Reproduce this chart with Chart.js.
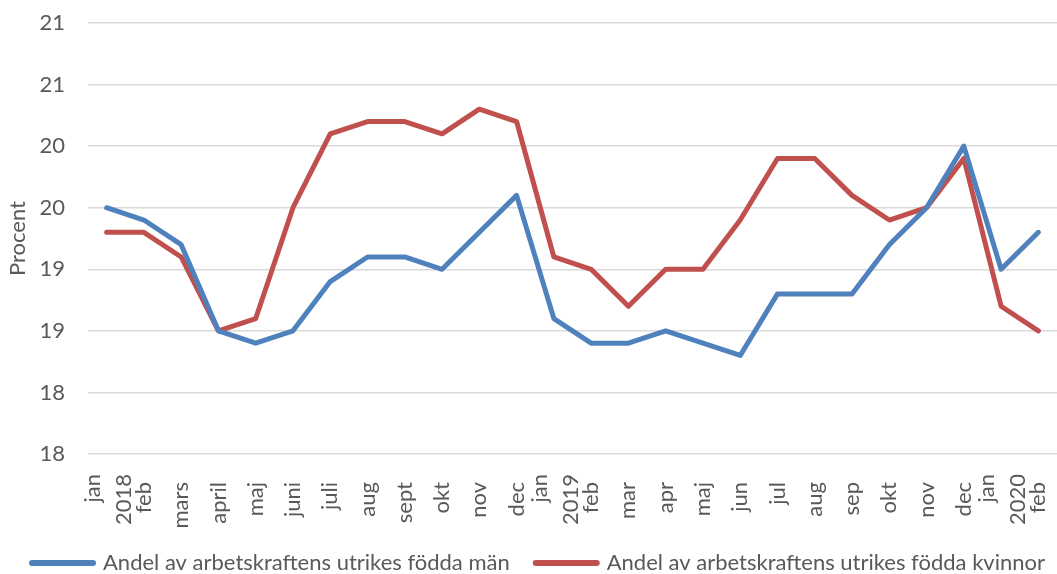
<!DOCTYPE html>
<html>
<head>
<meta charset="utf-8">
<script src="https://cdn.jsdelivr.net/npm/chart.js@4"></script>
<style>
html,body{margin:0;padding:0;background:#fff;}
#wrap{width:1057px;height:574px;position:relative;}
</style>
</head>
<body>
<div id="wrap"><canvas id="c"></canvas></div>
<script>
const months = ["jan","feb","mars","april","maj","juni","juli","aug","sept","okt","nov","dec",
  "jan","feb","mar","apr","maj","jun","jul","aug","sep","okt","nov","dec","jan","feb"];
const yearMarks = {0:"2018",12:"2019",24:"2020"};

const men = [19.5,19.4,19.2,18.5,18.4,18.5,18.9,19.1,19.1,19.0,19.3,19.6,
  18.6,18.4,18.4,18.5,18.4,18.3,18.8,18.8,18.8,19.2,19.5,20.0,19.0,19.3];
const women = [19.3,19.3,19.1,18.5,18.6,19.5,20.1,20.2,20.2,20.1,20.3,20.2,
  19.1,19.0,18.7,19.0,19.0,19.4,19.9,19.9,19.6,19.4,19.5,19.9,18.7,18.5];

const seriesNames = ["Andel av arbetskraftens utrikes födda män","Andel av arbetskraftens utrikes födda kvinnor"];
const seriesColors = ["#4f81bd","#c0504d"];

const yMin = 17.5, yMax = 21, yStep = 0.5;
const FONT = "Lato, 'Open Sans', sans-serif";
const FS = 22;
const textColor = "#595959";
const LABEL_PAD = 20;

// Two-line (month + year) category labels, drawn on the x scale's tick positions
const yearLabelPlugin = {
  id: 'yearLabels',
  afterDraw(chart) {
    const ctx = chart.ctx, xs = chart.scales.x;
    const top = chart.chartArea.bottom + LABEL_PAD;
    ctx.save();
    ctx.font = FS + "px " + FONT;
    ctx.fillStyle = textColor;
    ctx.textAlign = 'right';
    ctx.textBaseline = 'middle';
    Object.keys(yearMarks).forEach(k => {
      const i = +k, px = xs.getPixelForValue(i);
      [[months[i], -14], [yearMarks[k], 17]].forEach(([t, dx]) => {
        ctx.save();
        ctx.translate(px + dx, top);
        ctx.rotate(-Math.PI / 2);
        ctx.fillText(t, 0, 0);
        ctx.restore();
      });
    });
    ctx.restore();
  }
};

// Legend drawn with line samples like the original
const legendPlugin = {
  id: 'lineLegend',
  afterDraw(chart) {
    const ctx = chart.ctx;
    const sw = 67, gapText = 7, gapItem = 23, cy = 563;
    ctx.save();
    ctx.font = FS + "px " + FONT;
    const widths = chart.data.datasets.map(d => ctx.measureText(d.label).width);
    const total = widths.reduce((a, w) => a + sw + gapText + w, 0) + gapItem * (widths.length - 1);
    let x = 537 - total / 2;
    chart.data.datasets.forEach((d, i) => {
      ctx.strokeStyle = d.borderColor;
      ctx.lineWidth = 6;
      ctx.lineCap = 'round';
      ctx.beginPath();
      ctx.moveTo(x + 3, cy); ctx.lineTo(x + sw - 3, cy);
      ctx.stroke();
      x += sw + gapText;
      ctx.fillStyle = textColor;
      ctx.textAlign = 'left';
      ctx.textBaseline = 'middle';
      ctx.fillText(d.label, x, cy);
      x += widths[i] + gapItem;
    });
    ctx.restore();
  }
};

new Chart(document.getElementById('c'), {
  type: 'line',
  data: {
    labels: months,
    datasets: [
      {label: seriesNames[0], data: men,
       borderColor: seriesColors[0], backgroundColor: seriesColors[0], borderWidth: 5,
       pointRadius: 0, tension: 0, borderCapStyle: 'round', borderJoinStyle: 'round'},
      {label: seriesNames[1], data: women,
       borderColor: seriesColors[1], backgroundColor: seriesColors[1], borderWidth: 5,
       pointRadius: 0, tension: 0, borderCapStyle: 'round', borderJoinStyle: 'round'}
    ]
  },
  plugins: [yearLabelPlugin, legendPlugin],
  options: {
    responsive: true, maintainAspectRatio: false, animation: false,
    layout: {padding: {left: 0, right: 0, top: 23, bottom: 0}},
    plugins: {
      legend: {display: false},
      tooltip: {enabled: false}
    },
    scales: {
      x: {
        offset: true,
        afterFit: s => { s.height = 120; s.paddingLeft = 0; s.paddingRight = 0; },
        grid: {display: false},
        border: {display: false},
        ticks: {autoSkip: false, minRotation: 90, maxRotation: 90, padding: LABEL_PAD,
          color: textColor, font: {family: FONT, size: FS},
          callback: (v, i) => (yearMarks[i] ? "" : months[i])}
      },
      y: {
        min: yMin, max: yMax,
        afterFit: s => { s.width = 88; s.paddingTop = 0; s.paddingBottom = 0; },
        grid: {color: "#d9d9d9", lineWidth: 1.5, drawTicks: false},
        border: {display: false},
        ticks: {stepSize: yStep, padding: 23, color: textColor,
          font: {family: FONT, size: FS},
          callback: v => String(Math.round(v))},
        title: {display: true, text: "Procent", color: textColor,
          font: {family: FONT, size: FS}, padding: {top: 5, bottom: 0}}
      }
    }
  }
});
</script>
</body>
</html>
